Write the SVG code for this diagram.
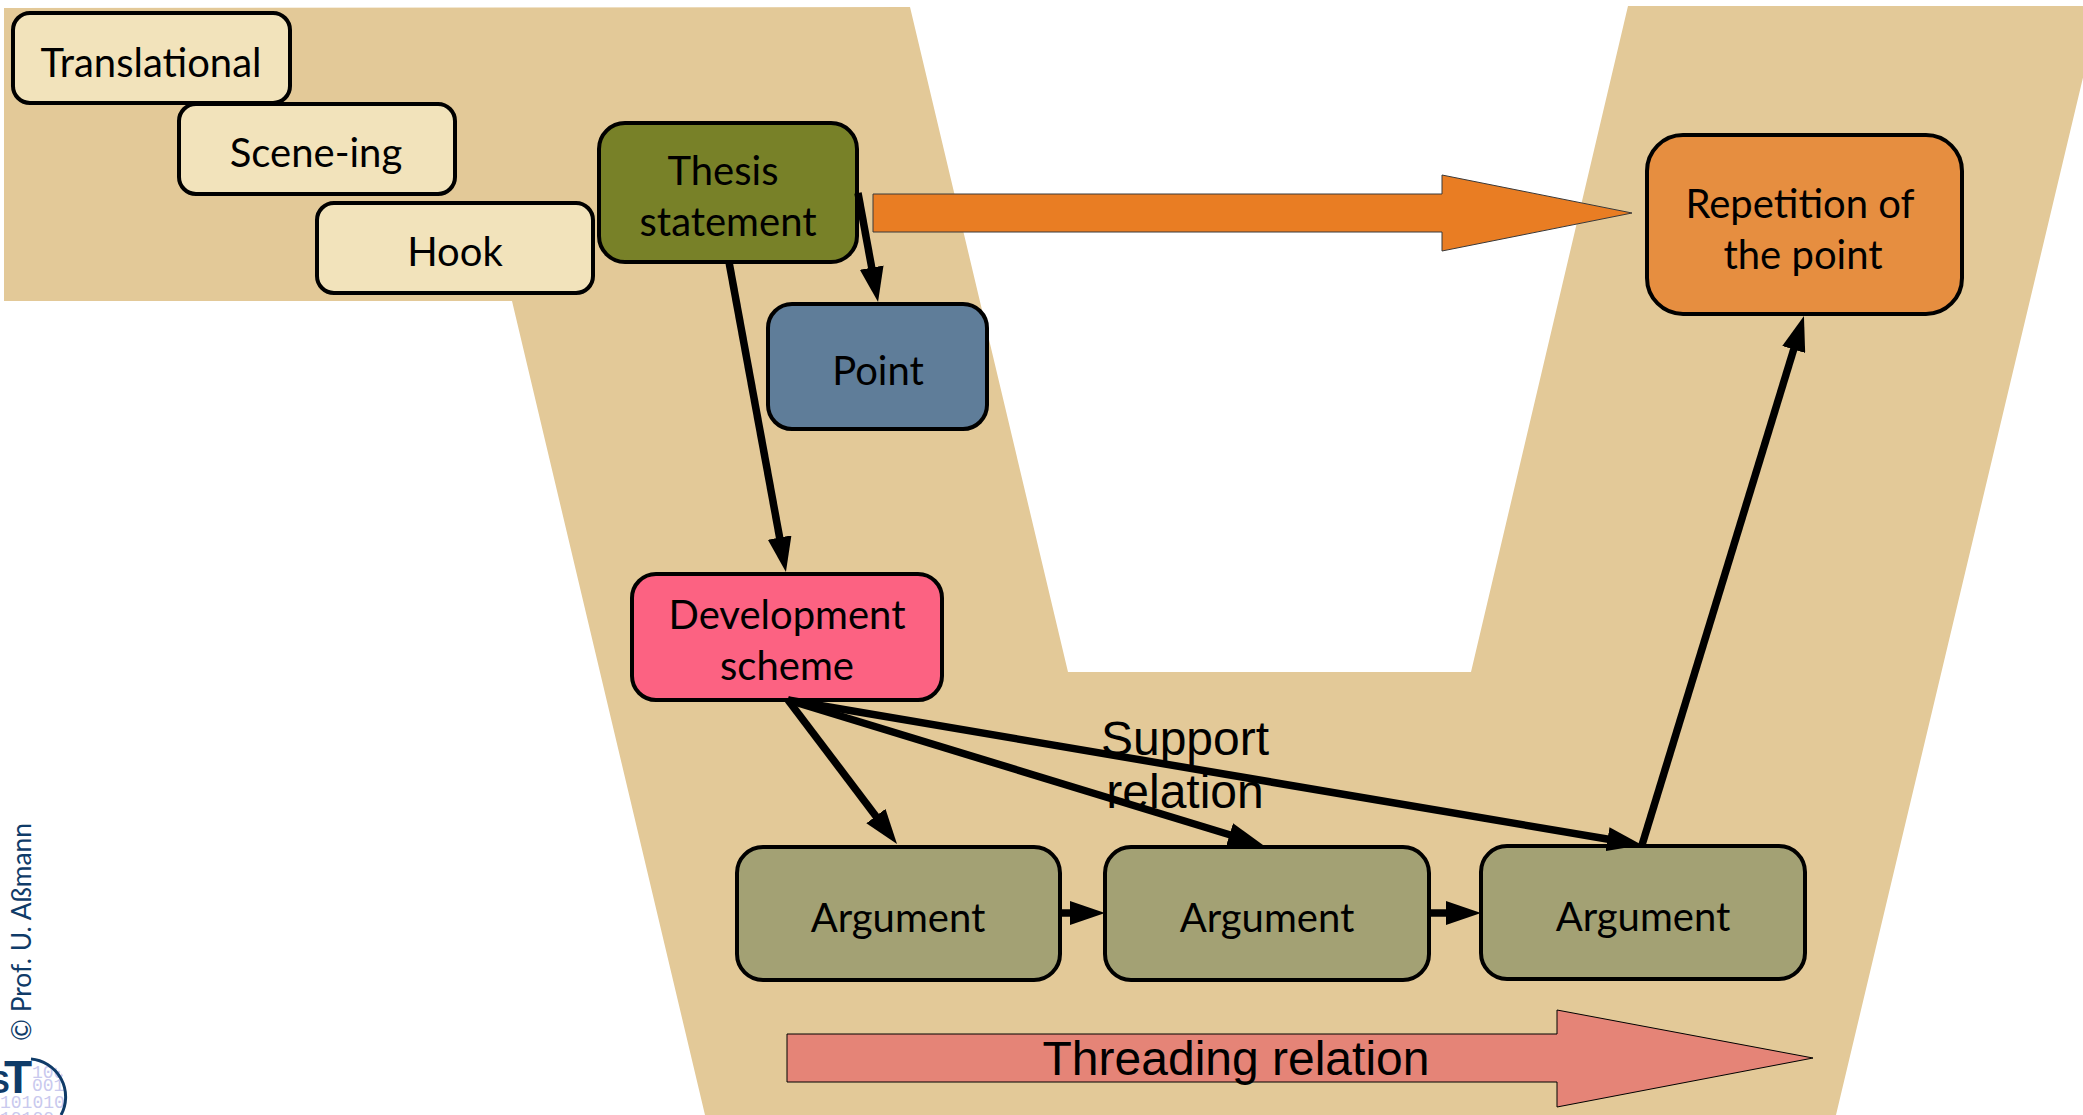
<svg xmlns="http://www.w3.org/2000/svg" width="2083" height="1115" viewBox="0 0 2083 1115">
<style>
.n{stroke:#000;stroke-width:4}
.t{font-family:Lato,"Open Sans",sans-serif;font-size:40px;fill:#000;text-anchor:middle}
.a{font-family:"Liberation Sans",Arial,sans-serif;font-size:48px;fill:#000;text-anchor:middle}
.c{stroke:#000;stroke-width:7.5;fill:none;marker-end:url(#h)}
.d{font-family:"Liberation Mono",monospace;font-size:18px;fill:#c9c9ee}
.s{font-family:"Liberation Sans",Arial,sans-serif;font-weight:bold;fill:#0f3b68}
</style>
<defs>
<marker id="h" markerUnits="userSpaceOnUse" markerWidth="36" markerHeight="24" refX="1" refY="12" orient="auto"><path d="M0 0L35 12L0 24Z" fill="#000"/></marker>
<clipPath id="lc"><circle cx="32" cy="1097" r="38"/></clipPath>
</defs>
<rect width="2083" height="1115" fill="#fff"/>
<g id="background"><path d="M4 8L910 7L1068 672L1471 672L1628 6L2100 6L1836 1115L705 1115L512 301L4 301Z" fill="#e3c998"/></g>
<g id="threading-arrow"><path d="M787 1034H1557V1010L1813 1058L1557 1107V1082H787Z" fill="#e58477" stroke="#000" stroke-width="1"/><text class="a" x="1236" y="1075">Threading relation</text></g>
<g id="orange-arrow"><path d="M873 194H1442V175L1632 213L1442 251V232H873Z" fill="#e97d23" stroke="#3a3a3a" stroke-width="1"/></g>
<g id="translational"><rect class="n" x="13" y="13" width="277" height="90" rx="17" fill="#f2e3bb"/><text class="t" x="151" y="77">Translational</text></g>
<g id="scene-ing"><rect class="n" x="179" y="104" width="276" height="90" rx="17" fill="#f2e3bb"/><text class="t" x="316" y="167">Scene-ing</text></g>
<g id="hook"><rect class="n" x="317" y="203" width="276" height="90" rx="17" fill="#f2e3bb"/><text class="t" x="455" y="266">Hook</text></g>
<g id="thesis"><rect class="n" x="599" y="123" width="258" height="139" rx="26" fill="#788128"/><text class="t" x="723" y="185">Thesis</text><text class="t" x="728" y="236">statement</text></g>
<g id="point"><rect class="n" x="768" y="304" width="219" height="125" rx="24" fill="#5f7d99"/><text class="t" x="878" y="385">Point</text></g>
<g id="development"><rect class="n" x="632" y="574" width="310" height="126" rx="24" fill="#fc6282"/><text class="t" x="787" y="629">Development</text><text class="t" x="787" y="680">scheme</text></g>
<g id="argument1"><rect class="n" x="737" y="847" width="323" height="133" rx="26" fill="#a3a174"/><text class="t" x="898" y="932">Argument</text></g>
<g id="argument2"><rect class="n" x="1105" y="847" width="324" height="133" rx="26" fill="#a3a174"/><text class="t" x="1267" y="932">Argument</text></g>
<g id="argument3"><rect class="n" x="1481" y="846" width="324" height="133" rx="26" fill="#a3a174"/><text class="t" x="1643" y="931">Argument</text></g>
<g id="repetition"><rect class="n" x="1647" y="135" width="315" height="179" rx="36" fill="#e68e40"/><text class="t" x="1800" y="218">Repetition of</text><text class="t" x="1803" y="269">the point</text></g>
<g id="connectors">
<line class="c" x1="858" y1="193" x2="871.9" y2="268.6"/>
<line class="c" x1="729" y1="262" x2="779.8" y2="538.5"/>
<line class="c" x1="788" y1="700" x2="876.5" y2="816.9"/>
<line class="c" x1="788" y1="700" x2="1230.5" y2="835"/>
<line class="c" x1="788" y1="700" x2="1608.5" y2="839.3"/>
<line class="c" x1="1060" y1="913" x2="1071" y2="913"/>
<line class="c" x1="1429" y1="913" x2="1447" y2="913"/>
<line class="c" x1="1642" y1="845" x2="1794" y2="348.5"/>
</g>
<g id="support-label"><text class="a" x="1185" y="755">Support</text><text class="a" x="1185" y="808">relation</text></g>
<g id="copyright"><text transform="translate(31 1041) rotate(-90)" font-family="Lato,sans-serif" font-size="26.4" fill="#0f3b68">© Prof. U. Aßmann</text></g>
<g id="logo">
<g clip-path="url(#lc)"><text class="d" x="32" y="1078">100</text><text class="d" x="32" y="1091">001</text><text class="d" x="0" y="1108">101010</text><text class="d" x="0" y="1124">10100</text></g>
<path d="M31 1059A38 38 0 0 1 61 1115" fill="none" stroke="#0f3b68" stroke-width="3"/>
<text class="s" x="-11" y="1093" font-size="31">S</text>
<text class="s" x="4" y="1093" font-size="46">T</text>
</g>
</svg>
